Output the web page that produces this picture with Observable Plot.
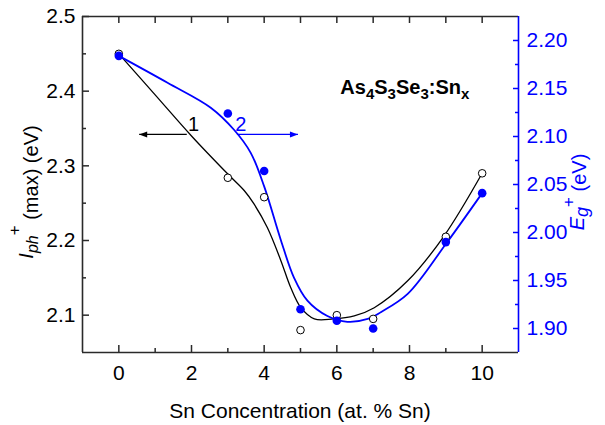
<!DOCTYPE html>
<html>
<head>
<meta charset="utf-8">
<script src="https://cdn.jsdelivr.net/npm/d3@7"></script>
<script src="https://cdn.jsdelivr.net/npm/@observablehq/plot@0.6"></script>
<style>
  body { margin: 0; background: #fff; }
  #chart { width: 605px; height: 425px; }
</style>
</head>
<body>
<div id="chart"></div>
<script>
// ---- data ----
const snX = [0, 3, 4, 5, 6, 7, 9, 10];
const iphValues = [2.450, 2.284, 2.258, 2.080, 2.100, 2.095, 2.205, 2.290];   // curve 1, left axis
const egValues  = [2.184, 2.124, 2.064, 1.920, 1.908, 1.900, 1.990, 2.041];   // curve 2, right axis

// smooth fitted curves
const iphFitX = [0, 1, 2, 3, 3.45, 3.72, 4.09, 4.46, 4.73, 5.01, 5.38, 5.9, 6.48, 7.03, 7.95, 8.95, 10];
const iphFitY = [2.450, 2.395, 2.340, 2.289, 2.267, 2.249, 2.217, 2.173, 2.137, 2.110, 2.095, 2.095, 2.099, 2.110, 2.146, 2.206, 2.290];
const egFitX = [0, 1.34, 2.53, 3.17, 3.63, 4.0, 4.46, 4.82, 5.19, 5.74, 6.29, 6.85, 7.21, 7.95, 9.0, 10];
const egFitY = [2.184, 2.156, 2.130, 2.107, 2.083, 2.048, 1.992, 1.953, 1.929, 1.913, 1.907, 1.910, 1.917, 1.936, 1.988, 2.041];

// axes
const xDomain = [-1, 11];
const leftDomain = [2.05, 2.5];
const rightDomain = [1.875, 2.225];
const xTicks = [0, 2, 4, 6, 8, 10];
const xMinor = [1, 3, 5, 7, 9];
const xTopTicks = [0, 1, 2, 3, 4, 5, 6, 7, 8, 9, 10];
const leftTicks = [2.1, 2.2, 2.3, 2.4, 2.5];
const leftMinor = [2.15, 2.25, 2.35, 2.45];
const rightTicks = [1.90, 1.95, 2.00, 2.05, 2.10, 2.15, 2.20];
const rightMinor = [1.925, 1.975, 2.025, 2.075, 2.125, 2.175];

// annotations: arrows and curve numbers (data coordinates, left axis)
const arrowY = 2.342;
const arrows = [
  {x1: 1.87, x2: 0.56, c: "black", rot: 180},
  {x1: 3.25, x2: 4.93, c: "blue", rot: 0}
];
const numLabels = [{t: "1", x: 2.06, y: 2.355, c: "black"}, {t: "2", x: 3.36, y: 2.355, c: "blue"}];

const BLUE = "#0000ff";
const AX = "#2a2a2a";
const FONT = "'Liberation Sans', Arial, Helvetica, sans-serif";

// right-axis values mapped onto the left y scale
const toLeft = d3.scaleLinear().domain(rightDomain).range(leftDomain);

const idx = d3.range(snX.length);
const iphFit = iphFitX.map((x, i) => ({x, y: iphFitY[i]}));
const egFit = egFitX.map((x, i) => ({x, y: toLeft(egFitY[i])}));

// narrow filled arrowhead symbol, tip at the anchor point, pointing to +x
const arrowHead = {
  draw(ctx, size) {
    const r = Math.sqrt(size / Math.PI);
    ctx.moveTo(0, 0);
    ctx.lineTo(-2 * r, -0.75 * r);
    ctx.lineTo(-2 * r, 0.75 * r);
    ctx.closePath();
  }
};

const plot = Plot.plot({
  width: 605,
  height: 425,
  marginLeft: 82,
  marginRight: 87,
  marginTop: 16,
  marginBottom: 73,
  x: {domain: xDomain, axis: null},
  y: {domain: leftDomain, axis: null},
  color: {type: "identity"},
  style: {fontFamily: FONT, fontSize: "21px", background: "white", color: "black", overflow: "visible"},
  marks: [
    // frame
    Plot.ruleX([xDomain[0]], {stroke: AX, strokeWidth: 1.6}),
    Plot.ruleY([leftDomain[0]], {stroke: AX, strokeWidth: 1.6}),
    Plot.ruleY([leftDomain[1]], {stroke: AX, strokeWidth: 1.6}),
    Plot.ruleX([xDomain[1]], {stroke: BLUE, strokeWidth: 1.6}),

    // bottom axis
    Plot.axisX(xTicks, {anchor: "bottom", tickSize: -7, fill: "none", stroke: AX, strokeWidth: 1.5, label: null}),
    Plot.axisX(xMinor, {anchor: "bottom", tickSize: -4, fill: "none", stroke: AX, strokeWidth: 1.5, label: null}),
    Plot.axisX(xTicks, {anchor: "bottom", tickSize: 0, tickPadding: 13, fontSize: 21, fill: "black", label: null}),
    // top ticks
    Plot.axisX(xTopTicks, {anchor: "top", tickSize: -6, fill: "none", stroke: AX, strokeWidth: 1.5, label: null}),

    // left axis
    Plot.axisY(leftTicks, {anchor: "left", tickSize: -7, fill: "none", stroke: AX, strokeWidth: 1.5, label: null}),
    Plot.axisY(leftMinor, {anchor: "left", tickSize: -4, fill: "none", stroke: AX, strokeWidth: 1.5, label: null}),
    Plot.axisY(leftTicks, {anchor: "left", tickSize: 0, tickPadding: 7, fontSize: 21, fill: "black", label: null, tickFormat: d => d.toFixed(1)}),

    // right axis (blue), values mapped through toLeft
    Plot.axisY(rightTicks.map(toLeft), {anchor: "right", tickSize: -6, fill: "none", stroke: BLUE, strokeWidth: 1.5, label: null}),
    Plot.axisY(rightMinor.map(toLeft), {anchor: "right", tickSize: -4, fill: "none", stroke: BLUE, strokeWidth: 1.5, label: null}),
    Plot.axisY(rightTicks.map(toLeft), {anchor: "right", tickSize: 0, tickPadding: 8, fontSize: 21, fill: BLUE, label: null,
      tickFormat: d => toLeft.invert(d).toFixed(2)}),

    // fitted curves
    Plot.line(iphFit, {x: "x", y: "y", curve: "catmull-rom", stroke: "black", strokeWidth: 1.3}),
    Plot.line(egFit, {x: "x", y: "y", curve: "catmull-rom", stroke: BLUE, strokeWidth: 1.8}),

    // arrows: shaft + filled head
    Plot.link(arrows, {x1: "x1", x2: "x2", y1: () => arrowY, y2: () => arrowY, stroke: d => d.c, strokeWidth: 1.2}),
    Plot.dot(arrows, {x: "x2", y: () => arrowY, symbol: arrowHead, r: 4, rotate: "rot", fill: d => d.c, stroke: "none"}),
    Plot.text(numLabels, {x: "x", y: "y", text: "t", fill: d => d.c, fontSize: 20}),

    // data points
    Plot.dot(idx, {x: i => snX[i], y: i => iphValues[i], r: 3.8, stroke: "black", fill: "white", strokeWidth: 1}),
    Plot.dot(idx, {x: i => snX[i], y: i => toLeft(egValues[i]), r: 4.3, fill: BLUE, stroke: "none"})
  ]
});

document.getElementById("chart").appendChild(plot);

const svg = d3.select(plot);
const sx = plot.scale("x"), sy = plot.scale("y");

// x axis title
svg.append("text")
  .attr("x", (82 + 518) / 2).attr("y", 418)
  .attr("text-anchor", "middle")
  .attr("font-family", FONT).attr("font-size", 21).attr("fill", "black")
  .text("Sn Concentration (at. % Sn)");

// left axis title: I_ph^+ (max) (eV)
const lt = svg.append("text")
  .attr("transform", "translate(38,192) rotate(-90)")
  .attr("text-anchor", "middle")
  .attr("font-family", FONT).attr("font-size", 20).attr("fill", "black");
lt.append("tspan").attr("font-style", "italic").attr("dy", -5).text("I");
lt.append("tspan").attr("font-style", "italic").attr("font-size", 16).attr("dy", 5).text("ph");
lt.append("tspan").attr("font-size", 17).attr("dy", -18).text("+");
lt.append("tspan").attr("dy", 18).text(" (max) (eV)");

// right axis title: E_g^+ (eV)
const rt = svg.append("text")
  .attr("transform", "translate(584,192) rotate(-90)")
  .attr("text-anchor", "middle")
  .attr("font-family", FONT).attr("font-size", 20).attr("fill", BLUE);
rt.append("tspan").attr("font-style", "italic").text("E");
rt.append("tspan").attr("font-style", "italic").attr("font-size", 18).attr("dy", 4).text("g");
rt.append("tspan").attr("font-size", 17).attr("dy", -14).text("+");
rt.append("tspan").attr("dy", 12).text(" (eV)");

// composition annotation As4S3Se3:Snx
const ann = svg.append("text")
  .attr("x", sx.apply(6.11)).attr("y", sy.apply(2.395))
  .attr("text-anchor", "start")
  .attr("font-family", FONT).attr("font-size", 20).attr("font-weight", "bold").attr("fill", "black");
const parts = [["As", 0], ["4", 1], ["S", 0], ["3", 1], ["Se", 0], ["3", 1], [":Sn", 0], ["x", 1]];
let lvl = 0;
for (const [t, sub] of parts) {
  const dy = (sub ? 5 : 0) - (lvl ? 5 : 0);
  ann.append("tspan").attr("font-size", sub ? 15 : 20).attr("dy", dy).text(t);
  lvl = sub;
}
</script>
</body>
</html>
